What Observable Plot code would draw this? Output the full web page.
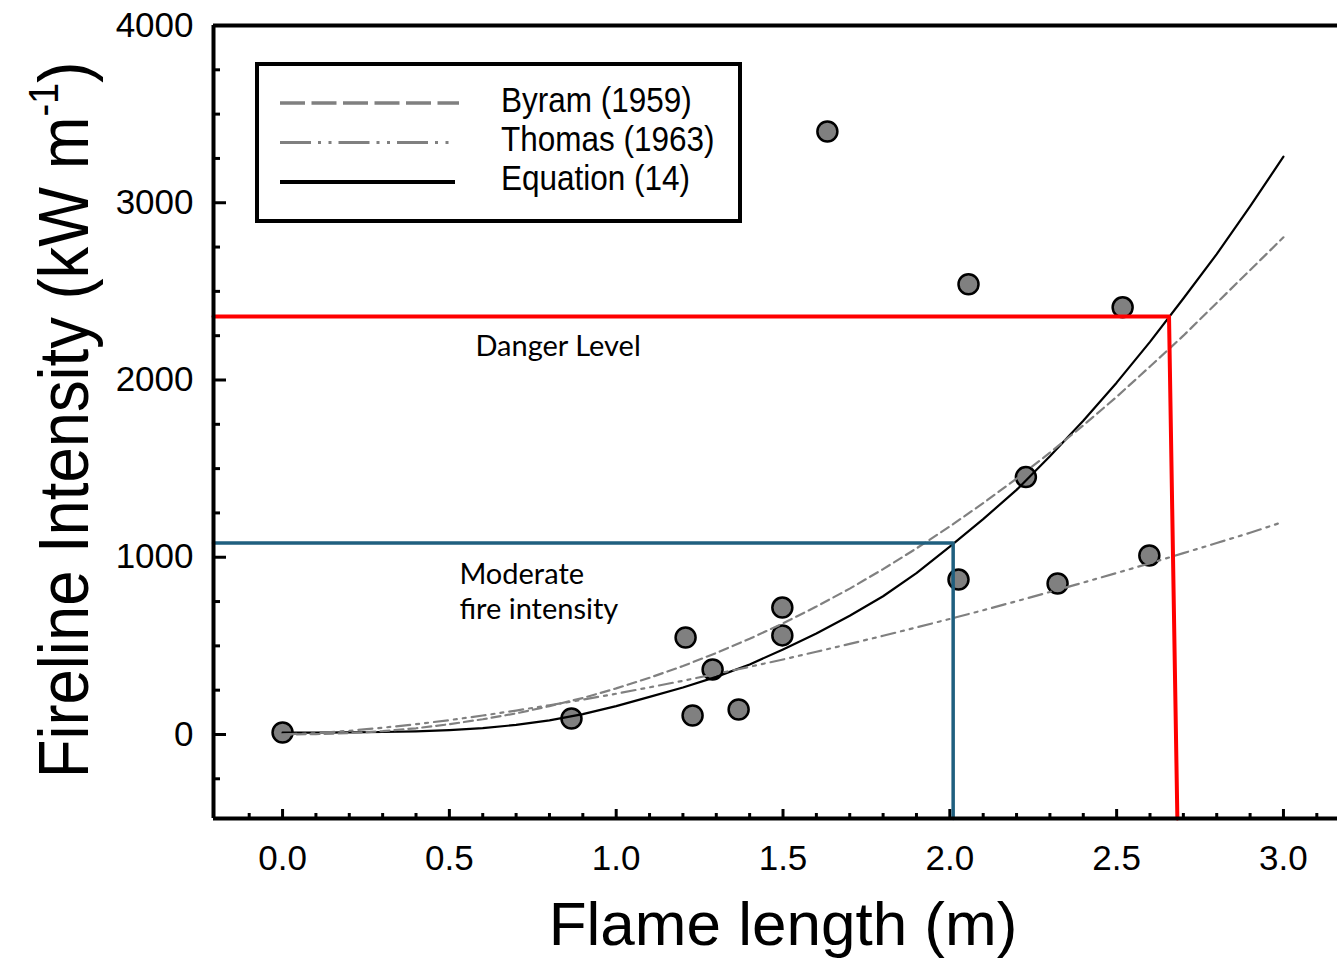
<!DOCTYPE html>
<html><head><meta charset="utf-8">
<script src="https://cdn.jsdelivr.net/npm/d3@7"></script>
<script src="https://cdn.jsdelivr.net/npm/@observablehq/plot@0.6"></script>
<style>html,body{margin:0;padding:0;background:#fff;} #chart{position:relative;width:1337px;height:958px;overflow:hidden;}</style>
</head><body><div id="chart"></div>
<script>
// ---- data ----
const flameLength = [0.0, 0.866, 1.208, 1.229, 1.289, 1.367, 1.498, 1.498, 1.633, 2.026, 2.056, 2.228, 2.323, 2.518, 2.598];
const intensity   = [11, 90, 547, 107, 367, 141, 716, 559, 3402, 874, 2540, 1452, 852, 2410, 1010];

const curveX     = [0.0,0.1,0.2,0.3,0.4,0.5,0.6,0.7,0.8,0.9,1.0,1.1,1.2,1.3,1.4,1.5,1.6,1.7,1.8,1.9,2.0,2.1,2.2,2.3,2.4,2.5,2.6,2.7,2.8,2.9,3.0];
const byram      = [0,2,8,19,35,58,86,119,160,206,260,320,386,460,540,627,722,823,933,1050,1174,1305,1444,1590,1744,1905,2076,2250,2435,2620,2805];
const thomas     = [0,7,21,38,58,81,107,135,165,197,230,266,303,342,382,423,467,511,557,604,652,701,752,804,857,911,966,1023,1080,1138,1200];
const equation14 = [10,10,12,14,18,25,36,54,80,115,160,212,265,325,395,480,570,670,780,910,1060,1215,1380,1570,1770,1985,2215,2460,2710,2980,3260];

const seriesNames = ["Byram (1959)", "Thomas (1963)", "Equation (14)"];
const xTickValues = [0, 0.5, 1, 1.5, 2, 2.5, 3];
const xTickLabels = ["0.0", "0.5", "1.0", "1.5", "2.0", "2.5", "3.0"];
const yTickValues = [0, 1000, 2000, 3000, 4000];
const yTickLabels = ["0", "1000", "2000", "3000", "4000"];

const dangerLevel = 2358;            // kW/m
const dangerLength = [2.657, 2.682]; // m (top, bottom of the slanted drop line)
const moderateLevel = 1080;
const moderateLength = 2.010;
const annotationTexts = ["Danger Level", "Moderate\nfire intensity"];

// ---- layout ----
const W = 1337, H = 958, mL = 213, mR = 0, mT = 25, mB = 140;
const xMin = -0.207, xMax = 3.162, yMin = -474, yMax = 4000;
const innerW = W - mL - mR, innerH = H - mT - mB;
const FONT = "'Liberation Sans', Arial, sans-serif";
const GRAY = "#808080";

const points = flameLength.map((x, i) => ({x, y: intensity[i]}));
const toSeries = vals => curveX.map((x, i) => ({x, y: vals[i]}));
const xMinor = d3.range(-1, 32).map(i => i / 10).filter(v => Math.abs(v * 2 - Math.round(v * 2)) > 1e-6);
const yMinor = d3.range(-250, 4000, 250).filter(v => v % 1000 !== 0);

const dangerLine = [
  {x: xMin, y: dangerLevel},
  {x: dangerLength[0], y: dangerLevel},
  {x: dangerLength[1], y: yMin}
];
const moderateLine = [
  {x: xMin, y: moderateLevel},
  {x: moderateLength, y: moderateLevel},
  {x: moderateLength, y: yMin}
];

const plot = Plot.plot({
  width: W, height: H,
  marginLeft: mL, marginRight: mR, marginTop: mT, marginBottom: mB,
  x: {domain: [xMin, xMax], axis: null},
  y: {domain: [yMin, yMax], axis: null},
  style: {background: "white", fontFamily: FONT, overflow: "visible"},
  marks: [
    // ticks (inward)
    Plot.ruleX(xTickValues, {x: d => d, insetTop: innerH - 9, stroke: "black", strokeWidth: 3}),
    Plot.ruleX(xMinor, {x: d => d, insetTop: innerH - 5, stroke: "black", strokeWidth: 3}),
    Plot.ruleY(yTickValues, {y: d => d, insetRight: innerW - 13, stroke: "black", strokeWidth: 3}),
    Plot.ruleY(yMinor, {y: d => d, insetRight: innerW - 7, stroke: "black", strokeWidth: 3}),
    // data points
    Plot.dot(points, {x: "x", y: "y", r: 10, fill: GRAY, stroke: "black", strokeWidth: 2.5}),
    // curves
    Plot.line(toSeries(equation14), {x: "x", y: "y", stroke: "black", strokeWidth: 2.2}),
    Plot.line(toSeries(byram), {x: "x", y: "y", stroke: GRAY, strokeWidth: 2.2, strokeDasharray: "9,5"}),
    Plot.line(toSeries(thomas), {x: "x", y: "y", stroke: GRAY, strokeWidth: 2.2, strokeDasharray: "14,6,3,6,3,6"}),
    // thresholds
    Plot.line(moderateLine, {x: "x", y: "y", stroke: "#1f5f7f", strokeWidth: 3.5}),
    Plot.line(dangerLine, {x: "x", y: "y", stroke: "#ff0000", strokeWidth: 4}),
    // frame
    Plot.ruleX([xMin], {stroke: "black", strokeWidth: 4}),
    Plot.ruleY([yMin], {stroke: "black", strokeWidth: 4}),
    Plot.ruleY([yMax], {stroke: "black", strokeWidth: 4}),
    // tick labels
    Plot.text(xTickValues, {x: d => d, y: yMin, text: (d, i) => xTickLabels[i], dy: 40, lineAnchor: "middle", fontSize: 35, fontFamily: FONT, fill: "black"}),
    Plot.text(yTickValues, {x: xMin, y: d => d, text: (d, i) => yTickLabels[i], dx: -20, textAnchor: "end", lineAnchor: "middle", fontSize: 35, fontFamily: FONT, fill: "black"}),
    // annotations
    Plot.text([annotationTexts[0]], {x: 0.578, y: 2133, text: d => d, textAnchor: "start", lineAnchor: "bottom", fontSize: 29, fontFamily: "Lato, 'Open Sans', sans-serif", fill: "black"}),
    Plot.text([annotationTexts[1]], {x: 0.530, y: 654, text: d => d, textAnchor: "start", lineAnchor: "bottom", lineHeight: 1.2, fontSize: 29, fontFamily: "Lato, 'Open Sans', sans-serif", fill: "black"})
  ]
});
document.getElementById("chart").appendChild(plot);

const svg = d3.select(plot);

// ---- legend ----
const lg = svg.append("g").attr("font-family", FONT).attr("text-anchor", "start");
lg.append("rect").attr("x", 257).attr("y", 64).attr("width", 483).attr("height", 157)
  .attr("fill", "white").attr("stroke", "black").attr("stroke-width", 4);
const legLineY = [103, 142.5, 182];
const legBase = [112, 151, 190];
const legEnd = [459, 451, 455];
const legDash = ["25,6.5", "31,7,3,7.5,3,7", null];
const legColor = [GRAY, GRAY, "black"];
const legWidth = [3.5, 3, 4];
seriesNames.forEach((name, i) => {
  const ln = lg.append("line").attr("x1", 280).attr("x2", legEnd[i])
    .attr("y1", legLineY[i]).attr("y2", legLineY[i])
    .attr("stroke", legColor[i]).attr("stroke-width", legWidth[i]);
  if (legDash[i]) ln.attr("stroke-dasharray", legDash[i]);
  lg.append("text").attr("transform", `translate(501,${legBase[i]}) scale(0.9,1)`)
    .attr("text-anchor", "start").attr("font-size", 35).attr("fill", "black").text(name);
});

// ---- axis titles ----
svg.append("text").attr("x", 783).attr("y", 945).attr("text-anchor", "middle")
  .attr("font-family", FONT).attr("font-size", 62).attr("fill", "black").text("Flame length (m)");
const yt = svg.append("text").attr("transform", "translate(88,420) rotate(-90) scale(0.905,1)")
  .attr("text-anchor", "middle").attr("font-family", FONT).attr("font-size", 70).attr("fill", "black");
yt.append("tspan").text("Fireline Intensity (kW m");
yt.append("tspan").attr("font-size", 42).attr("dy", -30).text("-1");
yt.append("tspan").attr("dy", 30).text(")");
</script>
</body></html>
